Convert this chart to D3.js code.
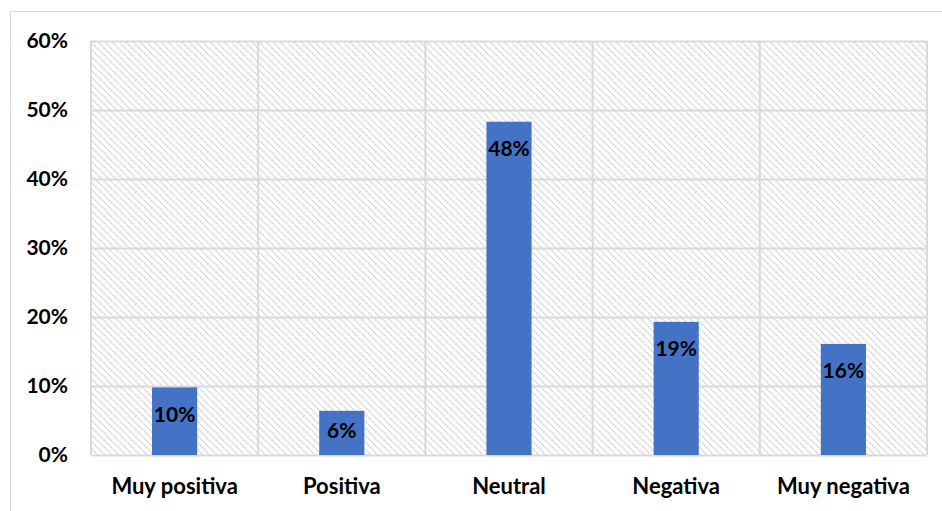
<!DOCTYPE html>
<html>
<head>
<meta charset="utf-8">
<script src="https://cdn.jsdelivr.net/npm/d3@7"></script>
<style>
  html, body { margin: 0; padding: 0; background: #fff; }
  svg { display: block; }
  text { font-family: Lato, "Open Sans", sans-serif; font-weight: 700; fill: #000; }
</style>
</head>
<body>
<svg id="chart" width="942" height="511"></svg>
<script>
// Opinion categories and their share of responses
const categories = ["Muy positiva", "Positiva", "Neutral", "Negativa", "Muy negativa"];
const shares = [0.098, 0.064, 0.483, 0.193, 0.161];
const yTicks = [0, 0.1, 0.2, 0.3, 0.4, 0.5, 0.6];

const svg = d3.select("#chart");
const plot = { left: 91, right: 927, top: 41, bottom: 455 };

// Diagonal hatch fill for the plot area
const defs = svg.append("defs");
const pat = defs.append("pattern")
  .attr("id", "hatch")
  .attr("patternUnits", "userSpaceOnUse")
  .attr("width", 7).attr("height", 7);
pat.append("rect").attr("width", 7).attr("height", 7).attr("fill", "#fff");
pat.append("path")
  .attr("d", "M-1,-1 L8,8 M-1,6 L1,8 M6,-1 L8,1")
  .attr("stroke", "#cfcfcf")
  .attr("stroke-width", 1.6)
  .attr("stroke-dasharray", "1.4,1");

// Chart frame
svg.append("rect")
  .attr("x", 10.5).attr("y", 11.5)
  .attr("width", 1000).attr("height", 600)
  .attr("fill", "none").attr("stroke", "#d9d9d9").attr("stroke-width", 1);

const x = d3.scaleBand()
  .domain(categories)
  .range([plot.left, plot.right])
  .paddingInner(0.73)
  .paddingOuter(0.365);

const y = d3.scaleLinear()
  .domain([0, 0.6])
  .range([plot.bottom, plot.top]);

svg.append("rect")
  .attr("x", plot.left).attr("y", plot.top)
  .attr("width", plot.right - plot.left)
  .attr("height", plot.bottom - plot.top)
  .attr("fill", "url(#hatch)");

// Horizontal gridlines with percentage labels
const yAxis = d3.axisLeft(y)
  .tickValues(yTicks)
  .tickFormat(d3.format(".0%"))
  .tickSize(-(plot.right - plot.left))
  .tickPadding(23);
const gy = svg.append("g")
  .attr("transform", `translate(${plot.left},0)`)
  .call(yAxis);
gy.select(".domain").remove();
gy.selectAll(".tick line").attr("stroke", "#d9d9d9").attr("stroke-width", 2);
gy.selectAll(".tick text")
  .attr("font-size", 21)
  .style("font-family", "Lato, sans-serif")
  .style("font-weight", 700)
  .attr("fill", "#000");

// Vertical gridlines at category boundaries
const step = x.step();
const bounds = categories.map((c, i) => plot.left + i * step).concat([plot.right]);
svg.append("g").selectAll("line")
  .data(bounds)
  .join("line")
  .attr("x1", d => d).attr("x2", d => d)
  .attr("y1", plot.top).attr("y2", plot.bottom)
  .attr("stroke", "#d9d9d9").attr("stroke-width", 2);

// Bars
svg.append("g").selectAll("rect")
  .data(categories)
  .join("rect")
  .attr("x", d => x(d))
  .attr("width", x.bandwidth())
  .attr("y", (d, i) => y(shares[i]))
  .attr("height", (d, i) => y(0) - y(shares[i]))
  .attr("fill", "#4472C4");

// Value labels near the top of each bar
const fmt = d3.format(".0%");
svg.append("g").selectAll("text")
  .data(categories)
  .join("text")
  .attr("x", d => x(d) + x.bandwidth() / 2)
  .attr("y", (d, i) => {
    const top = y(shares[i]);
    const h = y(0) - top;
    return top + Math.min(27, h / 2 - 2);
  })
  .attr("dy", "0.35em")
  .attr("text-anchor", "middle")
  .attr("font-size", 21)
  .text((d, i) => fmt(shares[i]));

// Category labels
const xAxis = d3.axisBottom(x).tickSize(0).tickPadding(23);
const gx = svg.append("g")
  .attr("transform", `translate(0,${plot.bottom})`)
  .call(xAxis);
gx.select(".domain").remove();
gx.selectAll(".tick text")
  .attr("font-size", 22)
  .style("font-family", "Lato, sans-serif")
  .style("font-weight", 700)
  .attr("fill", "#000");
</script>
</body>
</html>
